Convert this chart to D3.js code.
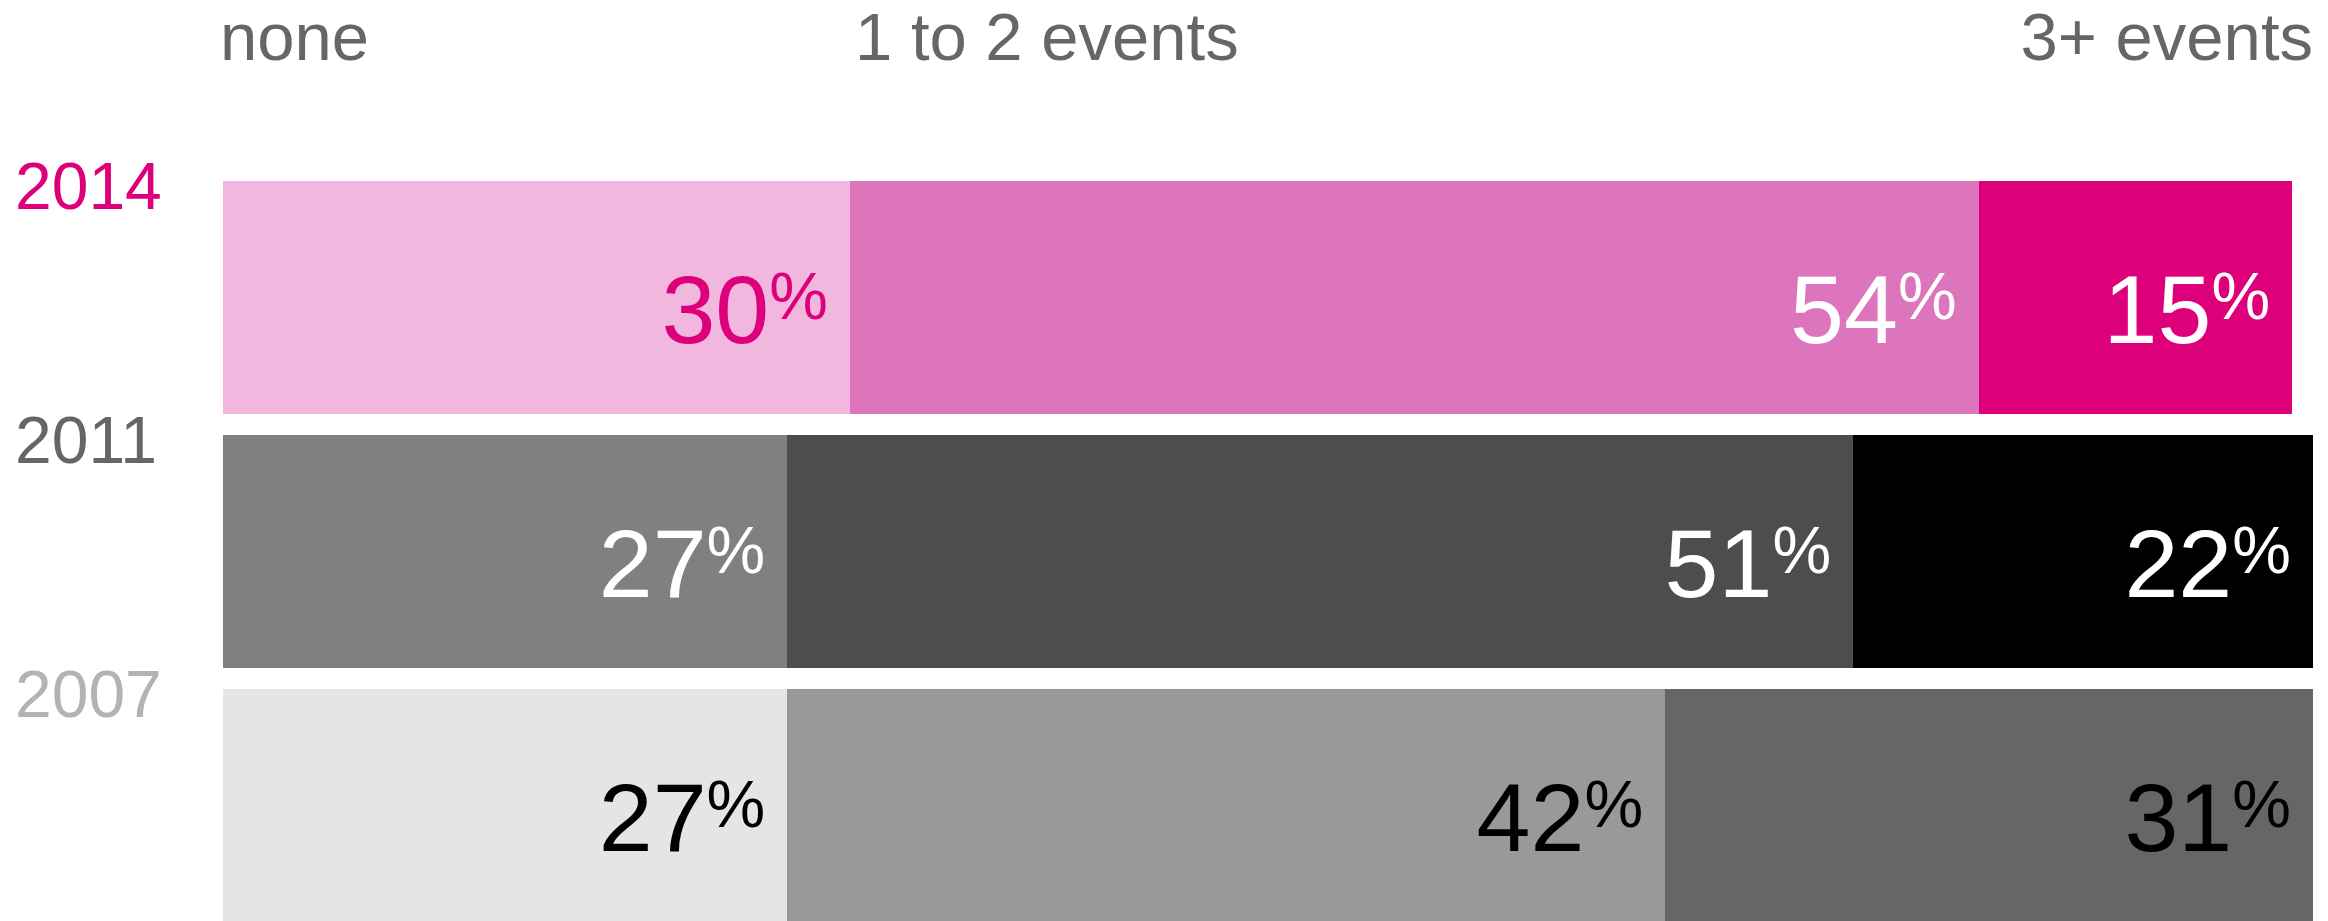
<!DOCTYPE html>
<html>
<head>
<meta charset="utf-8">
<script src="https://cdn.jsdelivr.net/npm/d3@7"></script>
<style>
  html, body { margin: 0; padding: 0; background: #ffffff; }
  svg { display: block; font-family: "Liberation Sans", Arial, sans-serif; }
</style>
</head>
<body>
<svg id="chart" width="2328" height="921"></svg>
<script>
// Survey years, top to bottom
const years = ["2014", "2011", "2007"];
// Response categories, left to right
const categories = ["none", "1 to 2 events", "3+ events"];
// Share of respondents (%) per category, one array per year
const values2014 = [30, 54, 15];
const values2011 = [27, 51, 22];
const values2007 = [27, 42, 31];

// Colours per year: segment fills, value-label colours and year-label colour
const fills2014 = ["#f1b7de", "#dc75bb", "#dd007a"];
const fills2011 = ["#808080", "#4d4d4d", "#000000"];
const fills2007 = ["#e5e5e5", "#999999", "#666666"];
const labelColors2014 = ["#dd007a", "#ffffff", "#ffffff"];
const labelColors2011 = ["#ffffff", "#ffffff", "#ffffff"];
const labelColors2007 = ["#000000", "#000000", "#000000"];
const yearColors = ["#dd007a", "#666666", "#b3b3b3"];

const rows = [
  { year: years[0], values: values2014, fills: fills2014, labels: labelColors2014, yearColor: yearColors[0] },
  { year: years[1], values: values2011, fills: fills2011, labels: labelColors2011, yearColor: yearColors[1] },
  { year: years[2], values: values2007, fills: fills2007, labels: labelColors2007, yearColor: yearColors[2] }
];

const svg = d3.select("#chart");

const x = d3.scaleLinear().domain([0, 100]).range([223, 2313]);
const y = d3.scaleBand().domain(years).range([181, 922]).paddingInner(21 / 254).paddingOuter(0);

// Category headers along the top
const headerX = [x(0) - 3, 855, x(100)];
const headerAnchor = ["start", "start", "end"];
svg.append("g").selectAll("text")
  .data(categories)
  .join("text")
  .attr("x", (d, i) => headerX[i])
  .attr("y", 60)
  .attr("text-anchor", (d, i) => headerAnchor[i])
  .attr("font-size", 67)
  .attr("fill", "#666666")
  .text(d => d);

// One group per year
const rowG = svg.append("g").selectAll("g")
  .data(rows)
  .join("g");

// Year labels
rowG.append("text")
  .attr("x", 15)
  .attr("y", d => y(d.year) + 28)
  .attr("font-size", 66)
  .attr("fill", d => d.yearColor)
  .text(d => d.year);

// Stacked segments
const segs = rowG.selectAll("g.seg")
  .data(d => {
    let acc = 0;
    return d.values.map((v, i) => {
      const s = { year: d.year, value: v, x0: acc, x1: acc + v, fill: d.fills[i], color: d.labels[i] };
      acc += v;
      return s;
    });
  })
  .join("g")
  .attr("class", "seg");

segs.append("rect")
  .attr("x", d => x(d.x0))
  .attr("y", d => y(d.year))
  .attr("width", d => x(d.x1) - x(d.x0))
  .attr("height", y.bandwidth())
  .attr("fill", d => d.fill)
  .attr("shape-rendering", "crispEdges");

// Value labels: number with a raised, smaller percent sign
const valueText = segs.append("text")
  .attr("x", d => x(d.x1) - 22)
  .attr("y", d => y(d.year) + y.bandwidth() / 2 + 45)
  .attr("text-anchor", "end")
  .attr("fill", d => d.color);

valueText.append("tspan")
  .attr("font-size", 97)
  .text(d => d.value);

valueText.append("tspan")
  .attr("font-size", 66)
  .attr("dy", -24)
  .text("%");
</script>
</body>
</html>
